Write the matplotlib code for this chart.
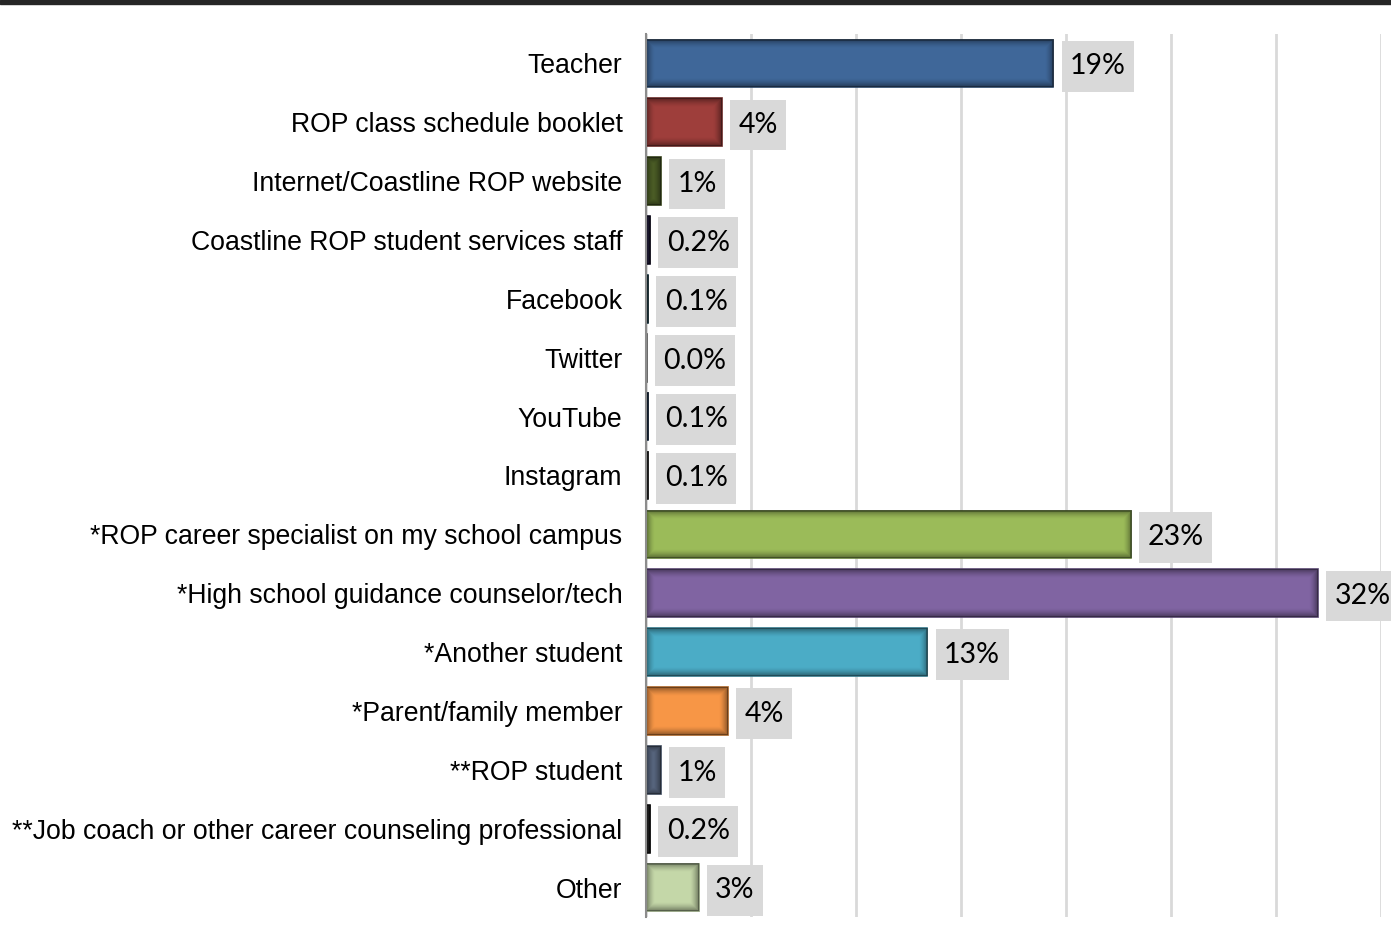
import numpy as np
import matplotlib.pyplot as plt
from matplotlib.patches import Rectangle

categories = ['Teacher', 'ROP class schedule booklet', 'Internet/Coastline ROP website',
              'Coastline ROP student services staff', 'Facebook', 'Twitter', 'YouTube',
              'Instagram', '*ROP career specialist on my school campus',
              '*High school guidance counselor/tech', '*Another student',
              '*Parent/family member', '**ROP student',
              '**Job coach or other career counseling professional', 'Other']
values = [19.4, 3.6, 0.7, 0.2, 0.1, 0.04, 0.1, 0.1, 23.1, 32.0, 13.4, 3.9, 0.7, 0.2, 2.5]
value_labels = ['19%', '4%', '1%', '0.2%', '0.1%', '0.0%', '0.1%', '0.1%',
                '23%', '32%', '13%', '4%', '1%', '0.2%', '3%']
colors = ['#3F6799', '#9E3E3B', '#4F6228', '#221C3E', '#2C5E6E', '#8C8C8C', '#1F3A5F',
          '#3A3A3A', '#9BBB59', '#8064A2', '#4BACC6', '#F79646', '#5C6B85', '#262626',
          '#C4D7A8']
edges = ['#2A4566', '#6A2A28', '#36421B', '#120E24', '#173540', '#555555', '#10223A',
         '#1A1A1A', '#66803A', '#574570', '#33788A', '#A86428', '#3E4A5C', '#111111',
         '#8A9A76']

fig = plt.figure(figsize=(13.91, 9.42), dpi=100)
ax = fig.add_axes([646 / 1391, 1 - 917 / 942, (1381 - 646) / 1391, (917 - 34) / 942])

y = list(range(len(categories)))
bars = ax.barh(y, values, height=0.81, color=colors, edgecolor=edges, linewidth=1.2, zorder=3)

ax.set_xlim(0, 35)
ax.set_ylim(14.5, -0.5)

# inner shadow on each bar (darker towards the edges)
px_per_x = (1381 - 646) / 35
px_per_y = (917 - 34) / 15
for p in bars:
    w_px = max(int(p.get_width() * px_per_x), 2)
    h_px = max(int(p.get_height() * px_per_y), 2)
    xx, yy = np.meshgrid(np.arange(w_px) + 0.5, np.arange(h_px) + 0.5)
    d = np.minimum(np.minimum(xx, w_px - xx), np.minimum(yy, h_px - yy))
    alpha = 0.45 * np.clip(1 - d / 9, 0, 1) ** 1.5
    img = np.zeros((h_px, w_px, 4))
    img[..., 3] = alpha
    x0, y0 = p.get_x(), p.get_y()
    ax.imshow(img, extent=(x0, x0 + p.get_width(), y0 + p.get_height(), y0),
              aspect='auto', interpolation='bilinear', zorder=3.5)

for yi, v, lab in zip(y, values, value_labels):
    ax.annotate(lab, (v, yi), xytext=(12, -2), textcoords='offset points',
                ha='left', va='center', fontsize=20.5, family='Lato', color='black',
                bbox=dict(boxstyle='square,pad=0.3', mutation_aspect=1.45,
                          fc='#D9D9D9', ec='none'), zorder=4)

ax.set_xlim(0, 35)
ax.set_ylim(14.5, -0.5)
ax.set_xticks(range(0, 36, 5))
ax.xaxis.grid(True, color='#D9D9D9', linewidth=2)
ax.set_axisbelow(True)
ax.tick_params(axis='x', length=0, labelbottom=False)
ax.tick_params(axis='y', length=0, pad=17)
ax.set_yticks(y)
ax.set_yticklabels(categories, fontsize=19.2, family='Liberation Sans')
for s in ['top', 'right', 'bottom']:
    ax.spines[s].set_visible(False)
ax.spines['left'].set_color('#8C8C8C')
ax.spines['left'].set_linewidth(1.5)
ax.spines['left'].set_zorder(5)

fig.add_artist(Rectangle((0, 1 - 4 / 942), 1, 4 / 942, transform=fig.transFigure,
                         color='#262626', zorder=10))

fig.savefig('out.png', dpi=100)
